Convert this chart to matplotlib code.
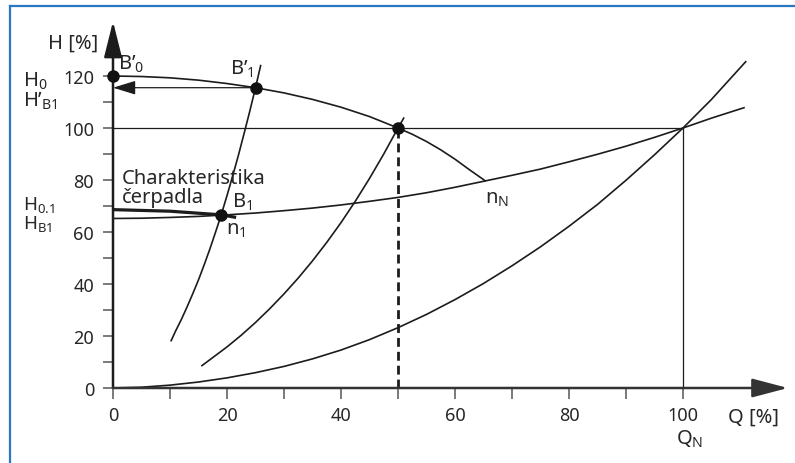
import matplotlib
matplotlib.use("Agg")
import matplotlib.pyplot as plt
from matplotlib.lines import Line2D

FONT = 'Noto Sans'
plt.rcParams['font.family'] = [FONT, 'DejaVu Sans']
plt.rcParams['mathtext.fontset'] = 'custom'
plt.rcParams['mathtext.rm'] = FONT
plt.rcParams['mathtext.it'] = FONT
plt.rcParams['mathtext.default'] = 'regular'

# ---------------- data ----------------
# system curve without static head (parabola through origin)
sys0_q = [0, 5, 10, 15, 20, 25, 30, 35, 40, 45, 50, 55, 60, 65, 70, 75, 80, 85, 90, 95, 100, 105, 111]
sys0_h = [0, 0.3, 1.1, 2.3, 3.9, 5.9, 8.3, 11.2, 14.6, 18.6, 23.2, 28.3, 34.0, 40.2, 47.0, 54.3,
          62.2, 70.6, 79.9, 89.7, 100, 111.0, 125.5]
# system curve with static head
sys1_q = [0, 5, 10, 15, 20, 25, 30, 35, 40, 45, 50, 55, 60, 65, 70, 75, 80, 85, 90, 95, 100, 105, 110.7]
sys1_h = [65.2, 65.3, 65.6, 66.0, 66.6, 67.3, 68.2, 69.2, 70.4, 71.8, 73.3, 75.1, 77.2, 79.5, 81.8,
          84.2, 87.0, 89.9, 93.0, 96.4, 100, 103.8, 107.8]
# pump characteristic at nominal speed n_N
pumpN_q = [0, 5, 10, 15, 20, 25, 30, 35, 40, 45, 50, 52.5, 55, 57.5, 60, 62.5, 65.3]
pumpN_h = [120, 119.8, 119.3, 118.4, 117.1, 115.5, 113.5, 111.0, 108.0, 104.4, 100, 97.6, 94.8,
           91.6, 88.0, 84.0, 79.7]
# affinity parabola through B1 / B'1
aff1_q = [10.2, 11, 12, 13, 14, 15, 16, 17, 18, 19, 20, 21, 22, 23, 24, 25, 25.9]
aff1_h = [18.2, 22.0, 26.4, 31.2, 36.3, 41.6, 47.4, 53.5, 60.0, 66.7, 74.0, 81.6, 89.5, 97.9,
          106.5, 115.5, 124]
# affinity parabola through the nominal point
aff2_q = [15.6, 17.5, 20, 22.5, 25, 27.5, 30, 32.5, 35, 37.5, 40, 42.5, 45, 47.5, 50, 51]
aff2_h = [8.6, 11.7, 15.8, 20.3, 25.2, 30.5, 36.2, 42.3, 48.9, 56.0, 63.6, 71.8, 80.6, 90.0, 100, 103.8]
# thick pump characteristic at reduced speed n_1
pump1_q = [0, 10, 19, 21.6]
pump1_h = [68.6, 68.0, 66.6, 65.6]
# operating points
pts_q = [0, 25, 50, 19]
pts_h = [120, 115.5, 100, 66.6]

x_major = [0, 20, 40, 60, 80, 100]
x_minor = [10, 30, 50, 70, 90]
y_major = [0, 20, 40, 60, 80, 100, 120]
y_minor = [10, 30, 50, 70, 90, 110]

# ---------------- figure ----------------
W, H = 795, 464
fig = plt.figure(figsize=(W / 100, H / 100), dpi=100)
ax = fig.add_axes([0, 0, 1, 1])
# pixel mapping: Q=0 at px 113, 5.7 px/unit ; H=0 at py 389, 2.6 px/unit
x0, sx, y0, sy = 113.0, 5.7, 389.0, 2.6
ax.set_xlim(-x0 / sx, (W - x0) / sx)
ax.set_ylim((y0 - H) / sy, y0 / sy)
ax.patch.set_alpha(0)

ink = '#1c1c1c'
txt = '#262626'
fs = 14.5
tfs = 13

for s in ['top', 'right']:
    ax.spines[s].set_visible(False)
ax.spines['left'].set_position(('data', 0))
ax.spines['bottom'].set_position(('data', 0))
ax.spines['left'].set_color('none')
ax.spines['bottom'].set_color('none')

ax.set_xticks(x_major)
ax.set_xticks(x_minor, minor=True)
ax.set_yticks(y_major)
ax.set_yticks(y_minor, minor=True)
ax.set_xticklabels([str(v) for v in x_major])
ax.set_yticklabels([str(v) for v in y_major])
ax.tick_params(axis='both', which='both', direction='out', color='#707070', width=1.3,
               labelsize=tfs, labelcolor=txt)
ax.tick_params(axis='y', which='both', length=7.5, pad=6)
ax.tick_params(axis='x', which='both', length=8, pad=5)

# axes with arrow heads
ax.annotate('', xy=(0, 141), xytext=(0, 0),
            arrowprops=dict(arrowstyle='-|>,head_length=2.2,head_width=0.55',
                            lw=1.8, color=ink, shrinkA=0, shrinkB=0), zorder=4)
ax.annotate('', xy=(118.4, 0), xytext=(0, 0),
            arrowprops=dict(arrowstyle='-|>,head_length=2.2,head_width=0.58',
                            lw=1.8, color='#333333', shrinkA=0, shrinkB=0), zorder=4)

# reference lines
ax.plot([0, 100], [100, 100], color=ink, lw=0.9)
ax.plot([100, 100], [0, 100], color=ink, lw=0.9)
ax.plot([50, 50], [0, 100], color=ink, lw=2.0, ls=(0, (3.2, 1.8)))

# curves
for q, h in [(sys0_q, sys0_h), (sys1_q, sys1_h), (pumpN_q, pumpN_h),
             (aff1_q, aff1_h), (aff2_q, aff2_h)]:
    ax.plot(q, h, color=ink, lw=1.2, solid_joinstyle='round')
ax.plot(pump1_q, pump1_h, color=ink, lw=2.3, solid_capstyle='butt')

# arrow from B'1 to the H axis
ax.annotate('', xy=(0, pts_h[1]), xytext=(pts_q[1], pts_h[1]),
            arrowprops=dict(arrowstyle='-|>,head_length=1.4,head_width=0.43',
                            lw=0.9, color=ink, shrinkA=0, shrinkB=0), zorder=4)

ax.plot(pts_q, pts_h, 'o', color='#111111', ms=8, zorder=5, clip_on=False)

# texts
def t(x, y, s, size=fs, **kw):
    kw.setdefault('ha', 'left')
    kw.setdefault('va', 'baseline')
    ax.text(x, y, s, fontsize=size, color=txt, **kw)

t(-2.6, 133, 'H [%]', ha='right', va='center')
t(0.9, 122.7, 'B’$_0$')
t(20.6, 120.8, 'B’$_1$')
t(-15.8, 116.3, 'H$_0$')
t(-15.8, 108.5, 'H’$_{B1}$')
t(-15.8, 68.8, 'H$_{0.1}$', size=13.5)
t(-15.8, 61.7, 'H$_{B1}$', size=13.5)
t(1.6, 78.8, 'Charakteristika')
t(1.6, 71.7, 'čerpadla')
t(20.9, 69.6, 'B$_1$')
t(19.8, 59.2, 'n$_1$')
t(65.3, 71.2, 'n$_N$')
t(107.9, -12.8, 'Q [%]')
t(98.8, -21.5, 'Q$_N$')

# blue frame (top and left edges)
fig.add_artist(Line2D([9.5 / W, 1.0], [1 - 6.5 / H, 1 - 6.5 / H],
                      transform=fig.transFigure, color='#2a78c4', lw=1.6))
fig.add_artist(Line2D([9.5 / W, 9.5 / W], [0, 1 - 6.5 / H],
                      transform=fig.transFigure, color='#2a78c4', lw=1.6))

fig.savefig('out.png', dpi=100)
